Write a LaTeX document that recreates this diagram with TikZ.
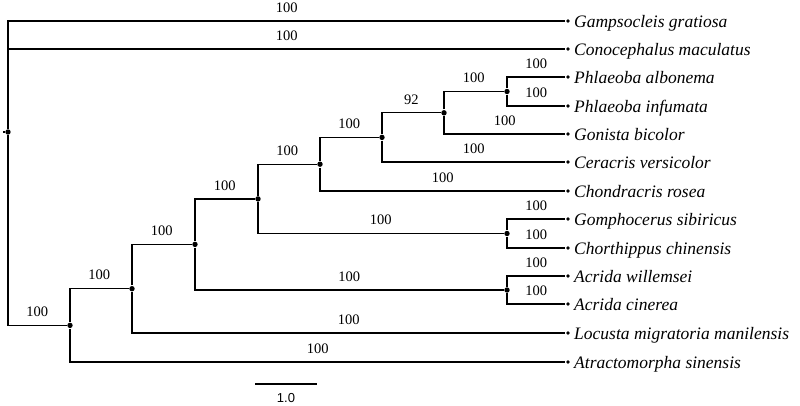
\documentclass[tikz,border=0pt]{standalone}
\usepackage{fontspec}
\setmainfont{Liberation Serif}
\setsansfont{Liberation Sans}
\usepackage{tikz}
\usetikzlibrary{positioning, calc}

\tikzset{
	inode/.style={circle, fill=black, inner sep=0pt, minimum size=5.4pt},
	tip/.style={circle, fill=black, inner sep=0pt, minimum size=3.8pt},
	taxon/.style={font=\fontsize{17.5}{20}\selectfont\itshape, inner sep=0pt,
		text height=12pt, text depth=0pt, label distance=3pt},
	sup/.style={pos=.75, above=8pt, inner sep=0pt, font=\fontsize{14.5}{16}\selectfont},
}

\begin{document}
\begin{tikzpicture}[x=1pt, y=-1pt, line width=1.3pt]
				\useasboundingbox (0,0) rectangle (800,405);
				% leaves
				\foreach \n/\y/\nm in {gam/21/Gampsocleis gratiosa, con/49/Conocephalus maculatus,
					pal/77/Phlaeoba albonema, pin/106/Phlaeoba infumata, gon/134/Gonista bicolor,
					cer/162/Ceracris versicolor, cho/191/Chondracris rosea, gsi/219/Gomphocerus sibiricus,
					cch/248/Chorthippus chinensis, awi/276/Acrida willemsei, aci/304/Acrida cinerea,
					loc/333/Locusta migratoria manilensis, atr/362/Atractomorpha sinensis}
					{\node[tip, label={[taxon]right:\nm}] (\n) at (568,\y) {};}
				% inner nodes
				\foreach \n/\x/\y in {root/8/132, n1/70/325.4, n2/132/288.7, n3/195/244.4,
					n4/258/198.9, n5/320/164.2, n6/382/137.4, n7/444/112.8,
					phl/507/91.5, gom/507/233.5, acr/507/290}
					{\node[inode] (\n) at (\x,\y) {};}
				\coordinate (stub) at (3,132);
				\draw (stub) -- (root);
				% branches with support values
				\foreach \a/\b/\v in {root/gam/100, root/con/100, root/n1/100, n1/n2/100, n1/atr/100,
					n2/n3/100, n2/loc/100, n3/n4/100, n3/acr/100, n4/n5/100, n4/gom/100,
					n5/n6/100, n5/cho/100, n6/n7/92, n6/cer/100, n7/phl/100, n7/gon/100,
					phl/pal/100, phl/pin/100, gom/gsi/100, gom/cch/100, acr/awi/100, acr/aci/100}
					{\draw (\a) |- (\b) node[sup] {\v};}
				% scale bar
				\coordinate (sbl) at (255,384);
				\coordinate (sbr) at (317,384);
				\draw (sbl) -- (sbr) node[midway, below=8.5pt, inner sep=0pt,
					font=\sffamily\fontsize{13}{15}\selectfont] {1.0};
			\end{tikzpicture}
\end{document}
